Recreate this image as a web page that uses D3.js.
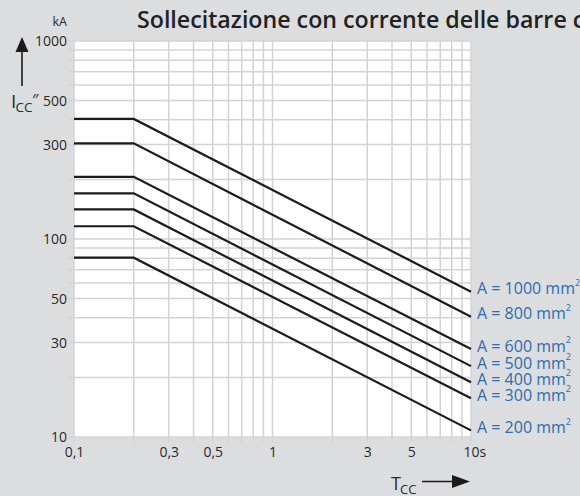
<!DOCTYPE html>
<html>
<head>
<meta charset="utf-8">
<script src="https://cdn.jsdelivr.net/npm/d3@7"></script>
<style>
  html, body { margin: 0; padding: 0; background: #dcdddf; overflow: hidden; }
  svg { display: block; }
  text { font-family: "Open Sans", "Noto Sans", sans-serif; }
</style>
</head>
<body>
<script>
// ---- data ----
const sections = [1000, 800, 600, 500, 400, 300, 200];          // mm²
const plateauKA = [404, 304, 206, 170, 141, 116, 80.5];          // kA, from 0.1 s to 0.2 s
const endKA = [54.2, 40.5, 27.8, 22.8, 18.9, 15.7, 10.8];        // kA at 10 s
const tStart = 0.1, tKnee = 0.2, tEnd = 10;
const xTickValues = [0.1, 0.3, 0.5, 1, 3, 5, 10];
const xTickLabels = ["0,1", "0,3", "0,5", "1", "3", "5", "10s"];
const yTickValues = [10, 30, 50, 100, 300, 500, 1000];
const yTickLabels = ["10", "30", "50", "100", "300", "500", "1000"];
const title = "Sollecitazione con corrente delle barre collettrici";

// ---- layout ----
const W = 580, H = 496;
const svg = d3.select("body").append("svg").attr("width", W).attr("height", H);
svg.append("rect").attr("width", W).attr("height", H).attr("fill", "#dcdddf");

const x = d3.scaleLog().domain([0.1, 10]).range([74, 471]);
const y = d3.scaleLog().domain([10, 1000]).range([437, 41]);

// plot background
svg.append("rect")
  .attr("x", x.range()[0]).attr("y", y.range()[1])
  .attr("width", x.range()[1] - x.range()[0])
  .attr("height", y.range()[0] - y.range()[1])
  .attr("fill", "#ffffff");

const gridColor = "#d2d3d5";
// vertical grid (with tick extension below)
svg.append("g").selectAll("line").data(x.ticks()).join("line")
  .attr("x1", d => x(d)).attr("x2", d => x(d))
  .attr("y1", y.range()[1]).attr("y2", y.range()[0] + 5)
  .attr("stroke", gridColor).attr("stroke-width", 1.5);
// horizontal grid (with tick extension left)
svg.append("g").selectAll("line").data(y.ticks()).join("line")
  .attr("y1", d => y(d)).attr("y2", d => y(d))
  .attr("x1", x.range()[0] - 5).attr("x2", x.range()[1])
  .attr("stroke", gridColor).attr("stroke-width", 1.5);

// axes labels via d3 axes
const xAxis = d3.axisBottom(x).tickValues(xTickValues)
  .tickFormat((d, i) => xTickLabels[i]).tickSize(0).tickPadding(10);
const gx = svg.append("g").attr("transform", `translate(0,${y.range()[0]})`).call(xAxis);
gx.select(".domain").remove();
gx.selectAll("text").attr("font-size", 14).attr("fill", "#2a2a2a")
  .attr("font-family", "Open Sans");
gx.selectAll("text").filter(d => d === 10).attr("text-anchor", "start").attr("dx", -8);

const yAxis = d3.axisLeft(y).tickValues(yTickValues)
  .tickFormat((d, i) => yTickLabels[i]).tickSize(0).tickPadding(7);
const gy = svg.append("g").attr("transform", `translate(${x.range()[0]},0)`).call(yAxis);
gy.select(".domain").remove();
gy.selectAll("text").attr("font-size", 14).attr("fill", "#2a2a2a")
  .attr("font-family", "Open Sans");

// curves
const line = d3.line().x(d => x(d[0])).y(d => y(d[1]));
svg.append("g").selectAll("path").data(sections).join("path")
  .attr("d", (s, i) => line([[tStart, plateauKA[i]], [tKnee, plateauKA[i]], [tEnd, endKA[i]]]))
  .attr("fill", "none").attr("stroke", "#1b1b1b").attr("stroke-width", 2.2)
  .attr("stroke-linejoin", "miter");

// curve labels
const lab = svg.append("g").selectAll("text").data(sections).join("text")
  .attr("x", x(tEnd) + 6)
  .attr("y", (s, i) => y(endKA[i]) - 3)
  .attr("dy", "0.36em")
  .attr("font-size", 16).attr("fill", "#2c6cb3");
lab.append("tspan").text(s => `A = ${s} mm`);
lab.append("tspan").text("2").attr("font-size", 9).attr("dy", "-0.95em");

// title
const t = svg.append("text").attr("x", 137).attr("y", 28)
  .attr("font-size", 20).attr("font-weight", 600).attr("fill", "#222").text(title);
const target = 436;
const visible = "Sollecitazione con corrente delle barre ".length;
const len = t.node().getSubStringLength(0, visible);
t.attr("font-size", 20 * target / len);

// y axis unit + symbol
svg.append("text").attr("x", 67).attr("y", 26).attr("text-anchor", "end")
  .attr("font-size", 12.5).attr("fill", "#2a2a2a").text("kA");
svg.append("line").attr("x1", 22).attr("x2", 22).attr("y1", 86).attr("y2", 50)
  .attr("stroke", "#1b1b1b").attr("stroke-width", 1.6);
svg.append("path").attr("d", "M15.5,52 L22,37 L28.5,52 Z").attr("fill", "#1b1b1b");
svg.append("text").attr("x", 11).attr("y", 107.5).attr("font-size", 19)
  .attr("fill", "#2a2a2a").text("I");
svg.append("text").attr("x", 15.5).attr("y", 111.5).attr("font-size", 13.5)
  .attr("fill", "#2a2a2a").text("CC");
svg.append("text").attr("x", 32).attr("y", 106).attr("font-size", 16)
  .attr("fill", "#2a2a2a").text("″");

// x axis symbol
svg.append("text").attr("x", 391).attr("y", 490).attr("font-size", 18)
  .attr("fill", "#2a2a2a").text("T");
svg.append("text").attr("x", 400).attr("y", 494).attr("font-size", 13)
  .attr("fill", "#2a2a2a").text("CC");
svg.append("line").attr("x1", 422).attr("x2", 455).attr("y1", 481.5).attr("y2", 481.5)
  .attr("stroke", "#1b1b1b").attr("stroke-width", 1.6);
svg.append("path").attr("d", "M452,475 L470,481.5 L452,488 Z").attr("fill", "#1b1b1b");
</script>
</body>
</html>
